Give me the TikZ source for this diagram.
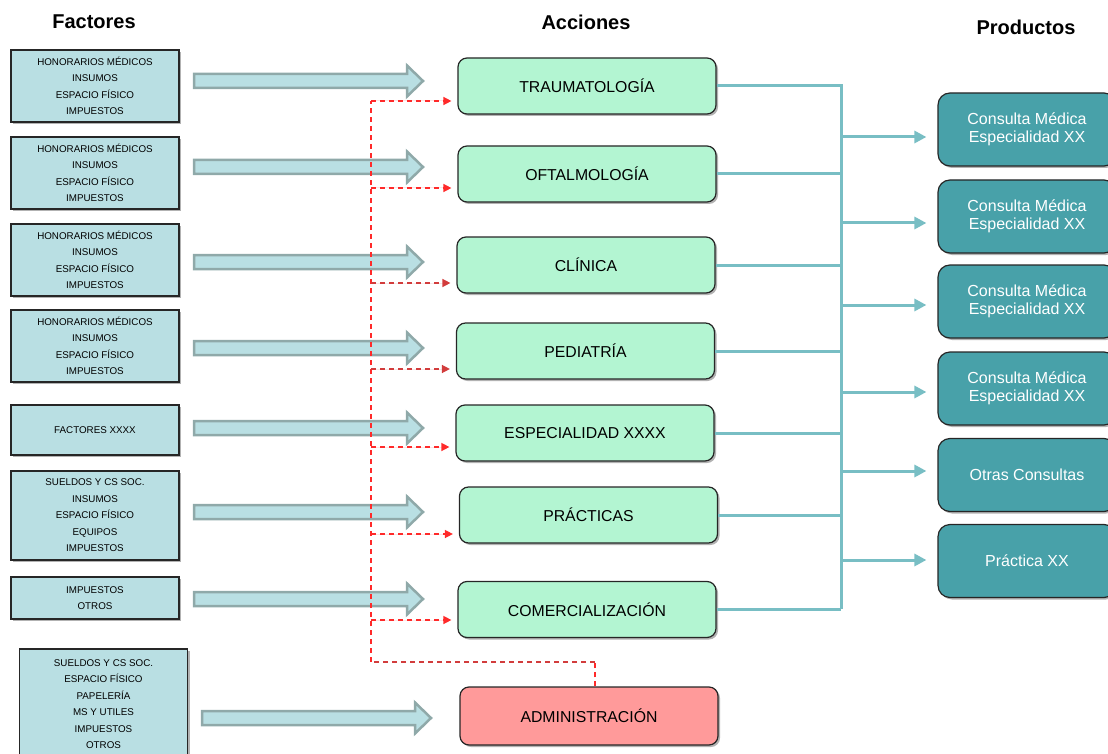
\documentclass[tikz,border=0pt]{standalone}
\usepackage{fontspec}
\setmainfont{Liberation Sans}
\usetikzlibrary{arrows.meta,shadows}

\definecolor{factorfill}{HTML}{B9DFE3}
\definecolor{arrowfill}{HTML}{B9DFE3}
\definecolor{arrowedge}{HTML}{8FA9A9}
\definecolor{actionfill}{HTML}{B3F5D2}
\definecolor{adminfill}{HTML}{FF9A9A}
\definecolor{productfill}{HTML}{48A1A9}
\definecolor{busline}{HTML}{78BEC4}
\definecolor{dashred}{HTML}{FF2A2A}
\definecolor{dashdark}{HTML}{D23C3C}
\definecolor{edge}{HTML}{262626}

\tikzset{
  shade box/.style={drop shadow={shadow xshift=2pt,shadow yshift=-2pt,opacity=0.3,fill=black}},
  title/.style={font=\fontsize{20}{24}\selectfont\bfseries},
  factor/.style={shade box,draw=edge,line width=1.5pt,fill=factorfill,minimum width=168pt,
    inner sep=0pt,align=center,font=\fontsize{9.8}{16.5}\selectfont},
  action/.style={shade box,draw=edge,line width=1.2pt,fill=actionfill,rounded corners=9pt,
    minimum width=258pt,minimum height=56pt,inner sep=0pt,font=\fontsize{15.8}{18}\selectfont},
  product/.style={shade box,draw=edge,line width=1.2pt,fill=productfill,rounded corners=12pt,
    minimum width=178pt,minimum height=73pt,inner sep=0pt,align=center,text=white,
    font=\fontsize{16}{18}\selectfont},
  blockarr/.style={draw=arrowedge,fill=arrowfill,line width=2.5pt,line join=miter},
  pics/blockarrow/.style={code={
    \draw[blockarr] (0,-7) -- (213,-7) -- (213,-15.5) -- (229,0) -- (213,15.5) -- (213,7) -- (0,7) -- cycle;}},
  tealline/.style={draw=busline,line width=3pt},
  tealarrow/.style={tealline,-{Triangle[length=12pt,width=12pt]}},
  reddash/.style={draw=dashred,line width=1.4pt,dash pattern=on 5pt off 4pt},
  redarrow/.style={reddash,-{Triangle[length=8pt,width=8pt]}},
}

\begin{document}
\begin{tikzpicture}[x=1pt,y=-1pt]
\useasboundingbox (0,0) rectangle (1108,754);

% column titles
\node[title] (tf) at (94,22) {Factores};
\node[title] (ta) at (586,22) {Acciones};
\node[title] (tp) at (1026,27) {Productos};

% cost factors
\node[factor,minimum height=72pt] (f1) at (95,86) {HONORARIOS MÉDICOS\\INSUMOS\\ESPACIO FÍSICO\\IMPUESTOS};
\node[factor,minimum height=72pt] (f2) at (95,173) {HONORARIOS MÉDICOS\\INSUMOS\\ESPACIO FÍSICO\\IMPUESTOS};
\node[factor,minimum height=72pt] (f3) at (95,260) {HONORARIOS MÉDICOS\\INSUMOS\\ESPACIO FÍSICO\\IMPUESTOS};
\node[factor,minimum height=72pt] (f4) at (95,346) {HONORARIOS MÉDICOS\\INSUMOS\\ESPACIO FÍSICO\\IMPUESTOS};
\node[factor,minimum height=50pt] (f5) at (95,430) {FACTORES XXXX};
\node[factor,minimum height=89pt] (f6) at (95,515.5) {SUELDOS Y CS SOC.\\INSUMOS\\ESPACIO FÍSICO\\EQUIPOS\\IMPUESTOS};
\node[factor,minimum height=42pt] (f7) at (95,598) {IMPUESTOS\\OTROS};
\node[factor,minimum height=110pt] (f8) at (103.5,704) {SUELDOS Y CS SOC.\\ESPACIO FÍSICO\\PAPELERÍA\\MS Y UTILES\\IMPUESTOS\\OTROS};

% block arrows
\pic at (194,81) {blockarrow};
\pic at (194,167) {blockarrow};
\pic at (194,262) {blockarrow};
\pic at (194,348) {blockarrow};
\pic at (194,428) {blockarrow};
\pic at (194,512) {blockarrow};
\pic at (194,599) {blockarrow};
\pic at (202,718) {blockarrow};

% actions
\node[action] (a1) at (587,86) {TRAUMATOLOGÍA};
\node[action] (a2) at (587,174) {OFTALMOLOGÍA};
\node[action] (a3) at (586,265) {CLÍNICA};
\node[action] (a4) at (585.5,351) {PEDIATRÍA};
\node[action] (a5) at (585,433) {ESPECIALIDAD XXXX};
\node[action] (a6) at (588.5,515) {PRÁCTICAS};
\node[action] (a7) at (587,609.5) {COMERCIALIZACIÓN};
\node[action,fill=adminfill,minimum height=58pt] (adm) at (589,716) {ADMINISTRACIÓN};

% products
\node[product] (p1) at (1027,129.5) {Consulta Médica\\Especialidad XX};
\node[product] (p2) at (1027,216.5) {Consulta Médica\\Especialidad XX};
\node[product] (p3) at (1027,301.5) {Consulta Médica\\Especialidad XX};
\node[product] (p4) at (1027,388.5) {Consulta Médica\\Especialidad XX};
\node[product] (p5) at (1027,475) {Otras Consultas};
\node[product] (p6) at (1027,561) {Práctica XX};

% collecting bus from actions to products
\coordinate (bustop) at (841,86);
\coordinate (busbot) at (841,607);
\foreach \a in {a1,a2,a3,a4,a5,a6,a7}
  \draw[tealline] (\a.east) -- (\a.east -| bustop);
\draw[tealline,line cap=rect] (bustop) -- (busbot);
\coordinate (b1) at (841,137);
\coordinate (b2) at (841,223);
\coordinate (b3) at (841,305);
\coordinate (b4) at (841,392);
\coordinate (b5) at (841,471);
\coordinate (b6) at (841,560);
\foreach \b/\p in {b1/p1,b2/p2,b3/p3,b4/p4,b5/p5,b6/p6}
  \draw[tealarrow,shorten >=11pt] (\b) -- (\b -| \p.west);

% administration overhead distributed to every action
\coordinate (dtop) at (371,101);
\coordinate (dbot) at (371,662);
\coordinate (dadm) at (595,662);
\draw[reddash] (adm.north -| dadm) -- (dadm);
\draw[reddash,draw=dashdark] (dadm) -- (dbot);
\draw[reddash] (dbot) -- (dtop);
\coordinate (d1) at (371,101);
\coordinate (d2) at (371,188);
\coordinate (d3) at (371,283);
\coordinate (d4) at (371,369);
\coordinate (d5) at (371,447);
\coordinate (d6) at (371,534);
\coordinate (d7) at (371,620);
\foreach \d/\a/\c in {d1/a1/dashred,d2/a2/dashred,d3/a3/dashdark,d4/a4/dashdark,d5/a5/dashred,d6/a6/dashred,d7/a7/dashred}
  \draw[redarrow,draw=\c,fill=\c,shorten >=6pt] (\d) -- (\d -| \a.west);
\end{tikzpicture}
\end{document}
